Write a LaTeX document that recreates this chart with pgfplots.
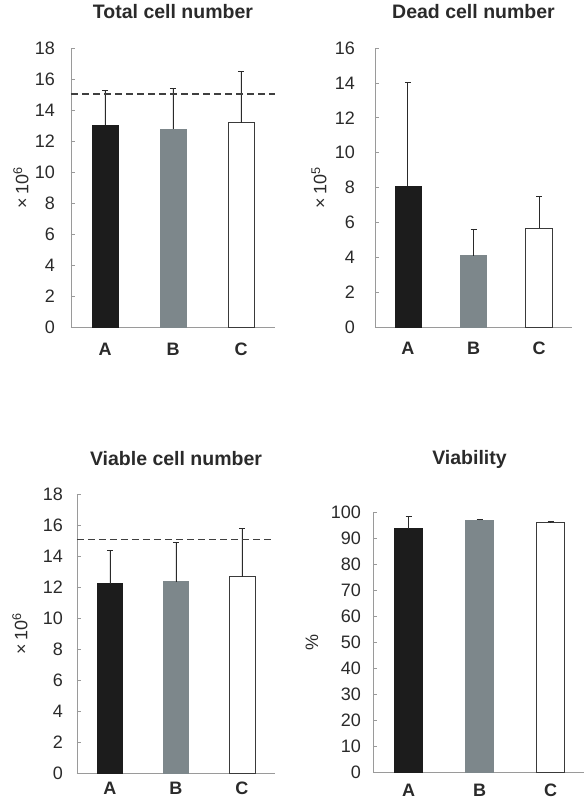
\documentclass[border=0pt]{standalone}
\usepackage{pgfplots}
\pgfplotsset{compat=1.18}
\usepackage{fontspec}
\setmainfont{Liberation Sans}
\definecolor{barA}{HTML}{1C1C1C}
\definecolor{barB}{HTML}{7D878B}
\definecolor{edgeC}{HTML}{3A3A3A}
\definecolor{axisgray}{HTML}{9A9A9A}
\definecolor{txt}{HTML}{2A2A2A}
\pgfplotsset{
  panel/.style={
    scale only axis, clip=false,
    /pgf/number format/assume math mode=true,
    axis x line=bottom, axis y line=left,
    axis line style={-, axisgray, line width=0.8pt},
    xmin=-0.5, xmax=2.5, ymin=0,
    xtick={0,1,2}, xticklabels={A,B,C},
    xtick style={draw=none},
    ytick style={axisgray, line width=0.6pt},
    tick align=inside, major tick length=4pt,
    xticklabel style={font=\fontsize{18}{20}\selectfont\bfseries, text=txt, anchor=center},
    yticklabel style={font=\fontsize{18}{20}\selectfont, text=txt, anchor=east, inner sep=0pt},
    title style={font=\fontsize{19.5}{22}\selectfont\bfseries, text=txt, anchor=center, at={(axis description cs:0.5,1)}},
    ylabel style={font=\fontsize{18}{20}\selectfont, text=txt, anchor=center},
  },
  errb/.style={error bars/.cd, y dir=plus, y explicit,
    error bar style={line width=0.9pt, color=txt},
    error mark options={rotate=90, line width=0.9pt, color=txt, mark size=3pt}},
  barstyle/.style={ybar, bar shift=0pt, bar width=#1},
  dashline/.style={txt!90, sharp plot, mark=none, dash pattern=on 7pt off 4pt, line width=1.3pt},
}
\begin{document}
\begin{tikzpicture}
\useasboundingbox (0,0) rectangle (584pt,804pt);
% Panel 1
\begin{axis}[panel, at={(71pt,477pt)}, anchor=south west, width=204pt, height=279pt,
  ymax=18, ytick={0,2,...,18},
  title={Total cell number}, title style={yshift=30pt},
  ylabel={×\,10\textsuperscript{6}}, ylabel style={at={(axis description cs:-0.245,0.5)}},
  xticklabel style={yshift=-22pt}, yticklabel style={xshift=-16pt}]
\addplot[barstyle=26pt, fill=barA, draw=barA, errb] coordinates {(0,13.03) +- (0,2.2)};
\addplot[barstyle=26pt, fill=barB, draw=barB, errb] coordinates {(1,12.77) +- (0,2.63)};
\addplot[barstyle=26pt, fill=white, draw=edgeC, line width=0.8pt, errb] coordinates {(2,13.18) +- (0,3.32)};
\addplot[dashline] coordinates {(-0.5,15.03) (2.5,15.03)};
\end{axis}
% Panel 2
\begin{axis}[panel, at={(375pt,477pt)}, anchor=south west, width=197pt, height=279pt,
  ymax=16, ytick={0,2,...,16},
  title={Dead cell number}, title style={yshift=30pt},
  ylabel={×\,10\textsuperscript{5}}, ylabel style={at={(axis description cs:-0.284,0.5)}},
  xticklabel style={yshift=-21pt}, yticklabel style={xshift=-20pt}]
\addplot[barstyle=26pt, fill=barA, draw=barA, errb] coordinates {(0,8.07) +- (0,5.97)};
\addplot[barstyle=26pt, fill=barB, draw=barB, errb] coordinates {(1,4.1) +- (0,1.47)};
\addplot[barstyle=27pt, fill=white, draw=edgeC, line width=0.8pt, errb] coordinates {(2,5.68) +- (0,1.78)};
\end{axis}
% Panel 3
\begin{axis}[panel, at={(77pt,31pt)}, anchor=south west, width=198pt, height=279pt,
  ymax=18, ytick={0,2,...,18},
  title={Viable cell number}, title style={yshift=29pt},
  ylabel={×\,10\textsuperscript{6}}, ylabel style={at={(axis description cs:-0.288,0.5)}},
  xticklabel style={yshift=-15pt}, yticklabel style={xshift=-14pt}]
\addplot[barstyle=25pt, fill=barA, draw=barA, errb] coordinates {(0,12.22) +- (0,2.15)};
\addplot[barstyle=25pt, fill=barB, draw=barB, errb] coordinates {(1,12.35) +- (0,2.55)};
\addplot[barstyle=26pt, fill=white, draw=edgeC, line width=0.8pt, errb] coordinates {(2,12.66) +- (0,3.14)};
\addplot[dashline] coordinates {(-0.5,15.06) (2.5,15.06)};
\end{axis}
% Panel 4
\begin{axis}[panel, at={(373pt,32pt)}, anchor=south west, width=211pt, height=260pt,
  xmax=2.47, ymax=100, ytick={0,10,...,100},
  title={Viability}, title style={yshift=47pt, xshift=-9pt},
  ylabel={\%}, ylabel style={at={(axis description cs:-0.289,0.5)}},
  xticklabel style={yshift=-18pt}, yticklabel style={xshift=-12pt}]
\addplot[barstyle=28pt, fill=barA, draw=barA, errb] coordinates {(0,93.6) +- (0,4.8)};
\addplot[barstyle=28pt, fill=barB, draw=barB, errb] coordinates {(1,96.9) +- (0,0.4)};
\addplot[barstyle=28pt, fill=white, draw=edgeC, line width=0.8pt, errb] coordinates {(2,96.0) +- (0,0.25)};
\end{axis}
\end{tikzpicture}
\end{document}
